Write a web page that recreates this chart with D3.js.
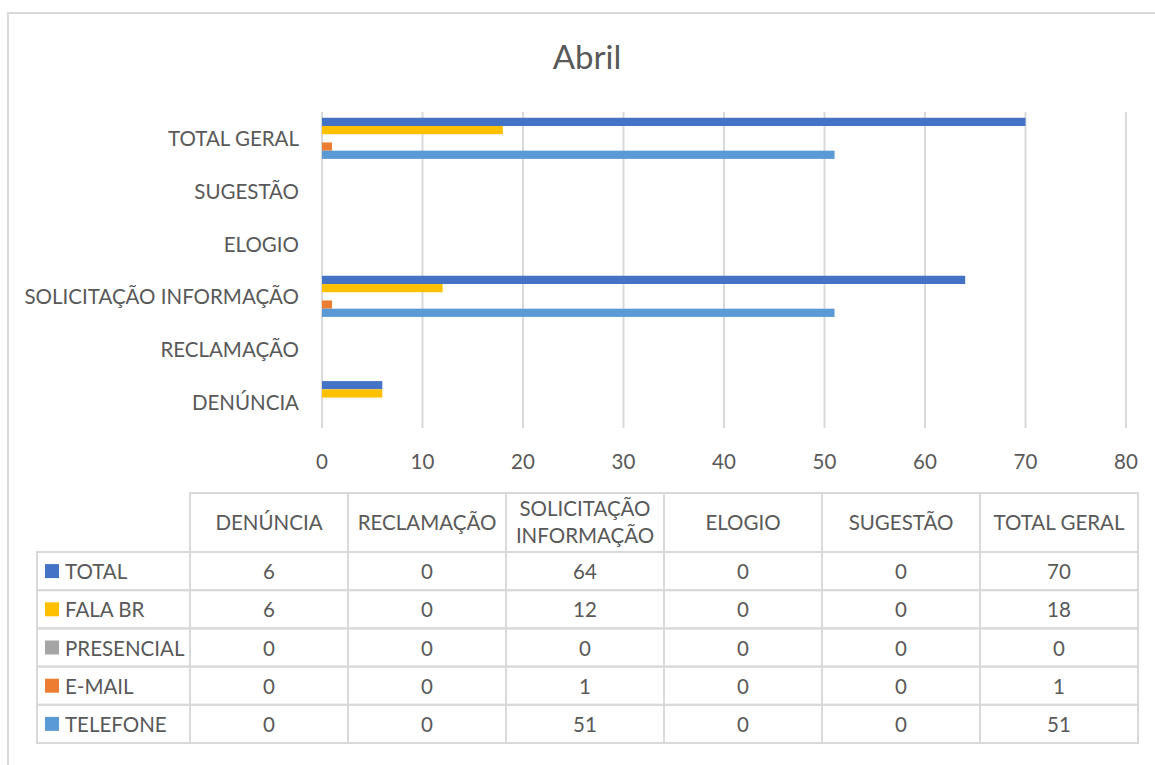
<!DOCTYPE html>
<html lang="pt">
<head>
<meta charset="utf-8">
<style>
  body { margin: 0; background: #fff; }
  svg { font-family: Lato, "Open Sans", sans-serif; }
  .grid line { stroke: #d9d9d9; stroke-width: 2px; }
  .lbl { fill: #595959; font-size: 20.5px; }
  .cell { fill: none; stroke: #d9d9d9; stroke-width: 2px; }
</style>
<script src="https://d3js.org/d3.v7.min.js"></script>
</head>
<body>
<script>
var width = 1155, height = 765;

// data
var categories = ["DENÚNCIA", "RECLAMAÇÃO", "SOLICITAÇÃO INFORMAÇÃO", "ELOGIO", "SUGESTÃO", "TOTAL GERAL"];
var seriesNames = ["TOTAL", "FALA BR", "PRESENCIAL", "E-MAIL", "TELEFONE"];
var total      = [6, 0, 64, 0, 0, 70];
var falaBr     = [6, 0, 12, 0, 0, 18];
var presencial = [0, 0, 0, 0, 0, 0];
var email      = [0, 0, 1, 0, 0, 1];
var telefone   = [0, 0, 51, 0, 0, 51];
var xTicks = [0, 10, 20, 30, 40, 50, 60, 70, 80];
var colors = ["#4472c4", "#ffc000", "#a5a5a5", "#ed7d31", "#5b9bd5"];

var values = [total, falaBr, presencial, email, telefone];

var svg = d3.select("body").append("svg")
  .attr("width", width)
  .attr("height", height);

// chart border
svg.append("rect")
  .attr("x", 8).attr("y", 13)
  .attr("width", 1160).attr("height", 770)
  .attr("fill", "none").attr("stroke", "#d9d9d9").attr("stroke-width", 2);

// title
svg.append("text")
  .attr("x", 587).attr("y", 69)
  .attr("text-anchor", "middle")
  .attr("fill", "#595959")
  .style("font-size", "33px")
  .text("Abril");

var x = d3.scaleLinear().domain([0, 80]).range([322, 1126]);
var y = d3.scaleBand().domain(categories.slice().reverse()).range([112, 428]);
var yInner = d3.scaleBand().domain(seriesNames).range([0, y.bandwidth()]).paddingOuter(0.7);

// gridlines
svg.append("g").attr("class", "grid")
  .selectAll("line").data(xTicks).enter().append("line")
  .attr("x1", function(d) { return x(d); })
  .attr("x2", function(d) { return x(d); })
  .attr("y1", 112).attr("y2", 428);

// bars
seriesNames.forEach(function(s, si) {
  svg.append("g").selectAll("rect")
    .data(categories.map(function(c, ci) { return { c: c, v: values[si][ci] }; }))
    .enter().append("rect")
    .attr("x", x(0))
    .attr("y", function(d) { return y(d.c) + yInner(s); })
    .attr("width", function(d) { return x(d.v) - x(0); })
    .attr("height", yInner.bandwidth())
    .attr("fill", colors[si]);
});

// category labels
svg.append("g").selectAll("text")
  .data(categories).enter().append("text")
  .attr("class", "lbl")
  .attr("x", 299)
  .attr("y", function(d) { return y(d) + y.bandwidth() / 2 + 8; })
  .attr("text-anchor", "end")
  .text(function(d) { return d; });

// x axis labels
svg.append("g").selectAll("text")
  .data(xTicks).enter().append("text")
  .attr("class", "lbl")
  .attr("x", function(d) { return x(d); })
  .attr("y", 469)
  .attr("text-anchor", "middle")
  .text(function(d) { return d; });

// data table
var col = d3.scaleBand().domain(categories).range([190, 1138]);
var headTop = 493, rowTop = 552, rowH = 38.2;
var row = d3.scaleBand().domain(seriesNames).range([rowTop, rowTop + rowH * seriesNames.length]);

var table = svg.append("g");

// header cells
categories.forEach(function(c) {
  table.append("rect").attr("class", "cell")
    .attr("x", col(c)).attr("y", headTop)
    .attr("width", col.bandwidth()).attr("height", rowTop - headTop);
  var words = c === "SOLICITAÇÃO INFORMAÇÃO" ? ["SOLICITAÇÃO", "INFORMAÇÃO"] : [c];
  words.forEach(function(w, i) {
    table.append("text").attr("class", "lbl")
      .attr("x", col(c) + col.bandwidth() / 2)
      .attr("y", words.length === 1 ? 530 : 516 + i * 27)
      .attr("text-anchor", "middle")
      .text(w);
  });
});

// body rows
seriesNames.forEach(function(s, si) {
  table.append("rect").attr("class", "cell")
    .attr("x", 37).attr("y", row(s))
    .attr("width", 190 - 37).attr("height", row.bandwidth());
  table.append("rect")
    .attr("x", 45).attr("y", row(s) + row.bandwidth() / 2 - 7)
    .attr("width", 14).attr("height", 14)
    .attr("fill", colors[si]);
  table.append("text").attr("class", "lbl")
    .attr("x", 65).attr("y", row(s) + row.bandwidth() / 2 + 8)
    .text(s);
  categories.forEach(function(c, ci) {
    table.append("rect").attr("class", "cell")
      .attr("x", col(c)).attr("y", row(s))
      .attr("width", col.bandwidth()).attr("height", row.bandwidth());
    table.append("text").attr("class", "lbl")
      .attr("x", col(c) + col.bandwidth() / 2)
      .attr("y", row(s) + row.bandwidth() / 2 + 8)
      .attr("text-anchor", "middle")
      .text(values[si][ci]);
  });
});
</script>
</body>
</html>
